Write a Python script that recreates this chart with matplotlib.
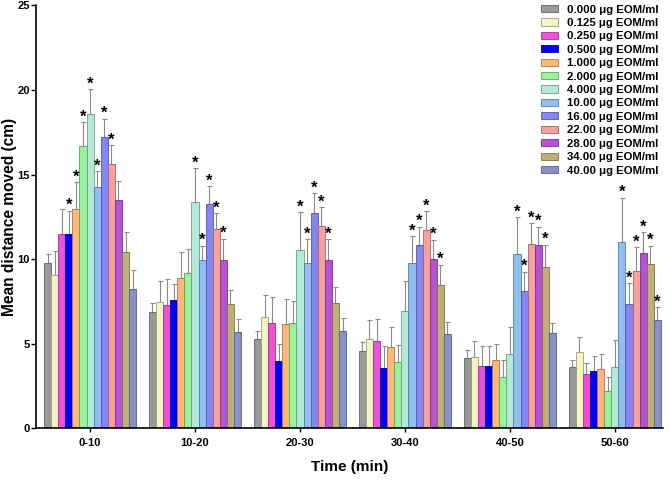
import matplotlib
matplotlib.use("Agg")
import matplotlib.pyplot as plt
import numpy as np
from matplotlib.colors import to_rgb

plt.rcParams["font.family"] = ["Liberation Sans", "DejaVu Sans"]
plt.rcParams["font.weight"] = "bold"

# time bins on the x axis
time_bins = ["0-10", "10-20", "20-30", "30-40", "40-50", "50-60"]

# EOM concentrations (legend)
conc_labels = ["0.000 \u03bcg EOM/ml", "0.125 \u03bcg EOM/ml", "0.250 \u03bcg EOM/ml",
               "0.500 \u03bcg EOM/ml", "1.000 \u03bcg EOM/ml", "2.000 \u03bcg EOM/ml",
               "4.000 \u03bcg EOM/ml", "10.00 \u03bcg EOM/ml", "16.00 \u03bcg EOM/ml",
               "22.00 \u03bcg EOM/ml", "28.00 \u03bcg EOM/ml", "34.00 \u03bcg EOM/ml",
               "40.00 \u03bcg EOM/ml"]
conc_colors = ["#999999", "#f5f5c3", "#ee50d8", "#0000f0", "#ffb877", "#99f39a",
               "#b3ead7", "#8fbff2", "#8585f5", "#f8a0a0", "#b653d3", "#bfb07a",
               "#8792c8"]

# mean distance moved per time bin, one value per concentration
mean_0_10 = [9.78, 9.04, 11.46, 11.50, 12.94, 16.69, 18.56, 14.24, 17.22, 15.62, 13.49, 10.41, 8.21]
mean_10_20 = [6.86, 7.47, 7.30, 7.59, 8.86, 9.15, 13.36, 9.92, 13.27, 11.76, 9.94, 7.32, 5.70]
mean_20_30 = [5.27, 6.55, 6.21, 3.95, 6.15, 6.20, 10.55, 9.75, 12.72, 11.97, 9.96, 7.38, 5.76]
mean_30_40 = [4.57, 5.25, 5.13, 3.53, 4.79, 3.89, 6.91, 9.76, 10.83, 11.70, 9.98, 8.44, 5.54]
mean_40_50 = [4.16, 4.20, 3.67, 3.65, 4.02, 3.00, 4.38, 10.30, 8.11, 10.91, 10.81, 9.53, 5.62]
mean_50_60 = [3.61, 4.51, 3.18, 3.37, 3.47, 2.17, 3.61, 11.01, 7.34, 9.29, 10.36, 9.70, 6.41]

# upper error (SEM)
err_0_10 = [0.50, 1.43, 1.48, 1.36, 1.60, 1.40, 1.48, 0.95, 1.06, 1.11, 1.13, 1.19, 1.12]
err_10_20 = [0.54, 1.21, 1.53, 0.93, 1.57, 1.46, 2.01, 0.85, 1.03, 0.94, 1.26, 0.83, 0.73]
err_20_30 = [0.47, 1.30, 1.52, 1.00, 1.47, 1.30, 2.21, 1.42, 1.17, 1.09, 1.21, 0.98, 0.73]
err_30_40 = [0.50, 1.14, 1.34, 1.30, 1.19, 1.04, 1.79, 1.58, 1.06, 1.12, 1.16, 1.20, 0.71]
err_40_50 = [0.46, 0.95, 1.16, 1.18, 0.93, 1.01, 1.58, 2.17, 1.12, 1.20, 1.08, 1.30, 0.58]
err_50_60 = [0.40, 0.86, 0.67, 0.87, 0.91, 0.85, 1.60, 2.62, 1.22, 1.40, 1.22, 1.07, 0.73]

# which concentrations are marked significant (*) in each time bin
stars_0_10 = [3, 4, 5, 6, 7, 8, 9]
stars_10_20 = [6, 7, 8, 9, 10]
stars_20_30 = [6, 7, 8, 9, 10]
stars_30_40 = [7, 8, 9, 10, 11]
stars_40_50 = [7, 8, 9, 10, 11]
stars_50_60 = [7, 8, 9, 10, 11, 12]

means = np.array([mean_0_10, mean_10_20, mean_20_30, mean_30_40, mean_40_50, mean_50_60])
errs = np.array([err_0_10, err_10_20, err_20_30, err_30_40, err_40_50, err_50_60])
stars = [stars_0_10, stars_10_20, stars_20_30, stars_30_40, stars_40_50, stars_50_60]

n_conc = len(conc_labels)
pitch = 14.8
centers = np.arange(len(time_bins)) * pitch

fig = plt.figure(figsize=(6.7, 4.86), dpi=100)
ax = fig.add_axes([0.0537, 0.1193, 0.9359, 0.8694])

for j in range(n_conc):
    xs = centers + (j - (n_conc - 1) / 2)
    edge = tuple(c * 0.65 for c in to_rgb(conc_colors[j]))
    ax.bar(xs, means[:, j], width=1.0, color=conc_colors[j], edgecolor=edge,
           linewidth=0.6, label=conc_labels[j], zorder=2)
    ax.errorbar(xs, means[:, j], yerr=[np.zeros(len(time_bins)), errs[:, j]],
                fmt="none", ecolor="#8a8a8a", elinewidth=0.8, capsize=1.8,
                capthick=0.8, zorder=1)

for i in range(len(time_bins)):
    for j in stars[i]:
        x = centers[i] + (j - (n_conc - 1) / 2)
        ax.annotate("*", (x, means[i, j] + errs[i, j]), xytext=(0, -1.5),
                    textcoords="offset points", ha="center", va="bottom",
                    fontsize=12, fontweight="bold")

ax.set_xlim(-7.63, 80.8)
ax.set_ylim(0, 25)
ax.set_yticks([0, 5, 10, 15, 20, 25])
ax.set_xticks(centers)
ax.set_xticklabels(time_bins)
ax.tick_params(axis="both", labelsize=8, width=1, length=3.5, pad=1)
ax.tick_params(axis="x", length=3, pad=4)
for s in ["top", "right"]:
    ax.spines[s].set_visible(False)
for s in ["left", "bottom"]:
    ax.spines[s].set_linewidth(1.2)

# y label placed by hand so it stays inside the narrow left margin
fig.text(0.0139, 0.553, "Mean distance moved (cm)", rotation=90, ha="center", va="center",
         fontsize=11.2, fontweight="bold")
ax.set_xlabel("Time (min)", fontsize=11, fontweight="bold", labelpad=9)

leg = ax.legend(loc="upper right", bbox_to_anchor=(0.99, 1.0), bbox_transform=fig.transFigure,
                frameon=False, fontsize=8.2, handlelength=1.5, handleheight=0.6,
                labelspacing=0.3, handletextpad=0.8, borderaxespad=0)

fig.savefig("out.png", dpi=100)
